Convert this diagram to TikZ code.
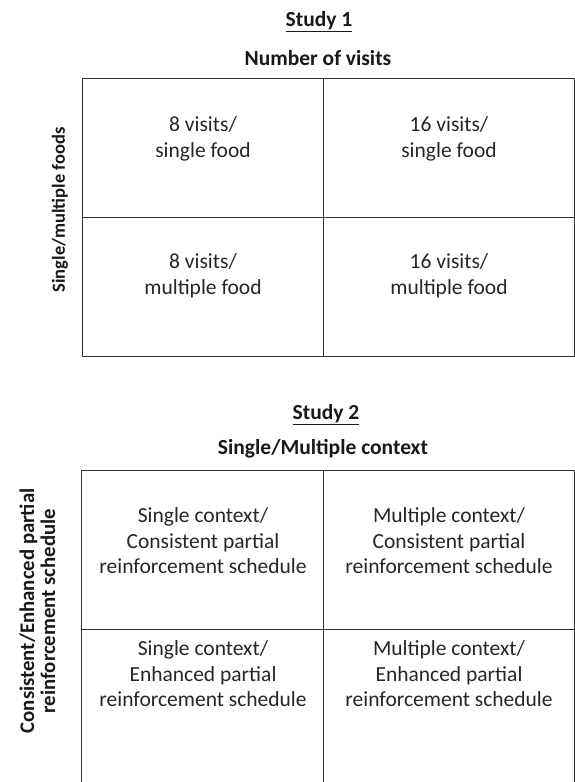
\documentclass[tikz,border=0pt]{standalone}
\usepackage{fontspec}
\setmainfont{Carlito}
\begin{document}
\begin{tikzpicture}[x=1pt,y=-1pt,
  grid/.style={draw=black!80, line width=0.9pt},
  title/.style={font=\fontsize{21.5}{24}\selectfont\bfseries, text=black!90, inner sep=0pt},
  celltext/.style={font=\fontsize{21.5}{25.5}\selectfont, text=black!85, align=center, inner sep=0pt},
  sidelabel/.style={font=\bfseries, text=black!90, align=center, rotate=90, inner sep=0pt}]
\useasboundingbox (0,0) rectangle (575,782);
% Study 1
\node[title] (s1) at (319,22) {\underline{Study 1}};
\node[title] (nv) at (318,58) {Number of visits};
\draw[grid] (82,78) rectangle (574.3,356);
\draw[grid] (82,217) -- (574.3,217);
\draw[grid] (323.5,78) -- (323.5,356);
\node[celltext] (a11) at (203,139) {8 visits/\\single food};
\node[celltext] (a12) at (449,139) {16 visits/\\single food};
\node[celltext] (a21) at (203,276) {8 visits/\\multiple food};
\node[celltext] (a22) at (449,276) {16 visits/\\multiple food};
\node[sidelabel, font=\fontsize{18.5}{21}\selectfont\bfseries] (l1) at (60,210) {Single/multiple foods};
% Study 2
\node[title] (s2) at (326,415) {\underline{Study 2}};
\node[title] (mc) at (323,449) {Single/Multiple context};
\draw[grid] (81.7,782) -- (81.7,470.5) -- (574.3,470.5) -- (574.3,782);
\draw[grid] (81.7,629) -- (574.3,629);
\draw[grid] (323.5,470.5) -- (323.5,782);
\node[celltext] (b11) at (203,541) {Single context/\\Consistent partial\\reinforcement schedule};
\node[celltext] (b12) at (449,541) {Multiple context/\\Consistent partial\\reinforcement schedule};
\node[celltext] (b21) at (203,674) {Single context/\\Enhanced partial\\reinforcement schedule};
\node[celltext] (b22) at (449,674) {Multiple context/\\Enhanced partial\\reinforcement schedule};
\node[sidelabel, font=\fontsize{20.8}{21}\selectfont\bfseries] (l2) at (37.5,611) {Consistent/Enhanced partial\\reinforcement schedule};
\end{tikzpicture}
\end{document}
